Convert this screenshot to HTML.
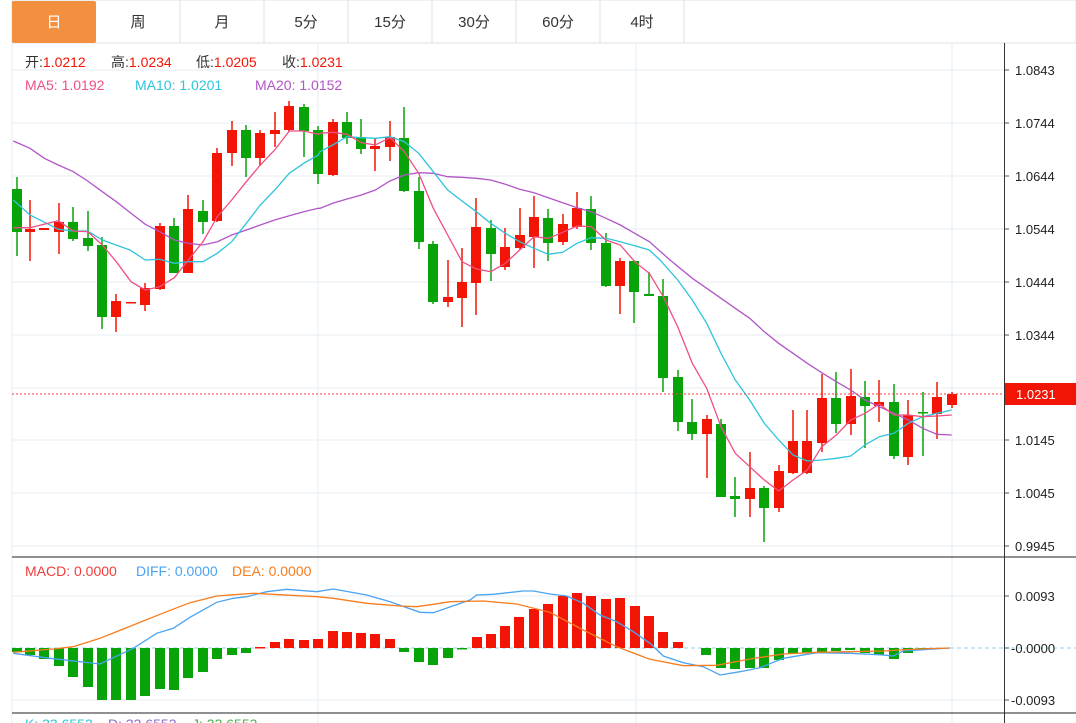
<!DOCTYPE html>
<html><head><meta charset="utf-8">
<style>
html,body{margin:0;padding:0;background:#fff;width:1076px;height:723px;overflow:hidden;font-family:"Liberation Sans","Noto Sans CJK SC",sans-serif;}
</style></head>
<body>
<svg id="s" width="1076" height="723" xmlns="http://www.w3.org/2000/svg" style="position:absolute;left:0;top:0;font-family:'Liberation Sans','Noto Sans CJK SC',sans-serif">
<rect x="12" y="0" width="1064" height="43" fill="#fff" stroke="#dde3ea"/>
<rect x="12" y="1" width="84" height="42" fill="#f39040" rx="2"/>
<g stroke="#dde3ea"><line x1="180" y1="0" x2="180" y2="43"/><line x1="264" y1="0" x2="264" y2="43"/><line x1="348" y1="0" x2="348" y2="43"/><line x1="432" y1="0" x2="432" y2="43"/><line x1="516" y1="0" x2="516" y2="43"/><line x1="600" y1="0" x2="600" y2="43"/><line x1="684" y1="0" x2="684" y2="43"/></g>
<g font-size="15" text-anchor="middle" fill="#333">
<text x="54" y="27" fill="#fff">日</text><text x="138" y="27">周</text><text x="222" y="27">月</text><text x="306" y="27">5分</text><text x="390" y="27">15分</text><text x="474" y="27">30分</text><text x="558" y="27">60分</text><text x="642" y="27">4时</text>
</g>
<g stroke="#e6edf3" stroke-width="1">
<line x1="12" y1="70" x2="1004" y2="70"/><line x1="12" y1="123" x2="1004" y2="123"/><line x1="12" y1="176" x2="1004" y2="176"/><line x1="12" y1="229" x2="1004" y2="229"/><line x1="12" y1="282" x2="1004" y2="282"/><line x1="12" y1="335" x2="1004" y2="335"/><line x1="12" y1="388" x2="1004" y2="388"/><line x1="12" y1="440" x2="1004" y2="440"/><line x1="12" y1="493" x2="1004" y2="493"/><line x1="12" y1="546" x2="1004" y2="546"/>
<line x1="12" y1="596" x2="1004" y2="596"/><line x1="12" y1="700" x2="1004" y2="700"/>
<line x1="318" y1="43" x2="318" y2="723"/><line x1="636" y1="43" x2="636" y2="723"/><line x1="952" y1="43" x2="952" y2="723"/>
<line x1="12" y1="43" x2="12" y2="723"/>
</g>
<line x1="12" y1="648" x2="1004" y2="648" stroke="#8fd3e8" stroke-dasharray="4,3"/>
<line x1="1004" y1="648" x2="1076" y2="648" stroke="#8fd3e8" stroke-dasharray="4,3"/>
<g id="cand"></g>
<g id="mac"></g>
<line x1="12" y1="394" x2="1004" y2="394" stroke="#f03c3c" stroke-dasharray="2,2"/>
<line x1="12" y1="557" x2="1076" y2="557" stroke="#222"/>
<line x1="12" y1="713" x2="1076" y2="713" stroke="#222"/>
<line x1="1004.5" y1="43" x2="1004.5" y2="723" stroke="#333"/>
<g stroke="#555"><line x1="1005" y1="70" x2="1009" y2="70"/><line x1="1005" y1="123" x2="1009" y2="123"/><line x1="1005" y1="176" x2="1009" y2="176"/><line x1="1005" y1="229" x2="1009" y2="229"/><line x1="1005" y1="282" x2="1009" y2="282"/><line x1="1005" y1="335" x2="1009" y2="335"/><line x1="1005" y1="388" x2="1009" y2="388"/><line x1="1005" y1="440" x2="1009" y2="440"/><line x1="1005" y1="493" x2="1009" y2="493"/><line x1="1005" y1="546" x2="1009" y2="546"/><line x1="1005" y1="596" x2="1009" y2="596"/><line x1="1005" y1="648" x2="1009" y2="648"/><line x1="1005" y1="700" x2="1009" y2="700"/></g>
<g font-size="13" fill="#222">
<text x="1015" y="75">1.0843</text><text x="1015" y="128">1.0744</text><text x="1015" y="181">1.0644</text><text x="1015" y="234">1.0544</text><text x="1015" y="287">1.0444</text><text x="1015" y="340">1.0344</text><text x="1015" y="393">1.0245</text><text x="1015" y="445">1.0145</text><text x="1015" y="498">1.0045</text><text x="1015" y="551">0.9945</text>
<text x="1015" y="601">0.0093</text><text x="1011" y="653">-0.0000</text><text x="1011" y="705">-0.0093</text>
</g>
<rect x="1005" y="383" width="71" height="22" fill="#f21405"/>
<text x="1016" y="399" font-size="13" fill="#fff">1.0231</text>
<g font-size="14">
<text x="25" y="67" fill="#333">开:<tspan fill="#f21405">1.0212</tspan></text>
<text x="111" y="67" fill="#333">高:<tspan fill="#f21405">1.0234</tspan></text>
<text x="196" y="67" fill="#333">低:<tspan fill="#f21405">1.0205</tspan></text>
<text x="282" y="67" fill="#333">收:<tspan fill="#f21405">1.0231</tspan></text>
<text x="25" y="90" fill="#ef4f84">MA5:  1.0192</text>
<text x="135" y="90" fill="#2ec4db">MA10:  1.0201</text>
<text x="255" y="90" fill="#b155c7">MA20:  1.0152</text>
<text x="25" y="576" fill="#f03c3c">MACD: 0.0000</text>
<text x="136" y="576" fill="#4aa3f0">DIFF: 0.0000</text>
<text x="232" y="576" fill="#f57d1f">DEA: 0.0000</text>
<text x="25" y="729" fill="#2ec4db">K: 33.6553</text>
<text x="108" y="729" fill="#8e6bc7">D: 33.6553</text>
<text x="192" y="729" fill="#4caf50">J: 33.6553</text>
</g>
</svg>
<script>
var R="#f21405",G="#08a308";
var C=[[17,189,232,177,256,0],[30,229,232,200,261,1],[44,228,230,228,230,1],[59,222,232,203,254,1],[73,222,239,207,241,0],[88,238,246,211,251,0],[102,245,317,237,329,0],[116,301,317,294,332,1],[131,302,303,302,303,1],[145,288,305,283,311,1],[160,226,289,223,290,1],[174,226,273,218,273,0],[188,209,273,195,273,1],[203,211,222,200,234,0],[217,153,221,148,222,1],[232,130,153,121,166,1],[246,130,158,125,177,0],[260,133,158,130,166,1],[275,130,134,112,147,1],[289,106,130,101,132,1],[304,107,131,104,157,0],[318,130,174,126,184,0],[333,122,175,119,176,1],[347,122,138,112,144,0],[361,137,149,119,154,0],[375,146,149,138,171,1],[390,137,147,121,161,1],[404,138,191,107,192,0],[419,191,242,177,249,0],[433,244,302,241,304,0],[448,297,302,260,307,1],[462,282,298,248,327,1],[476,227,283,198,315,1],[491,228,254,220,281,0],[505,247,267,228,270,1],[520,235,248,208,250,1],[534,217,237,196,268,1],[548,218,243,209,261,0],[563,224,242,214,245,1],[577,208,227,192,229,1],[591,209,243,196,250,0],[606,243,286,233,287,0],[620,261,286,258,314,1],[634,261,292,260,323,0],[649,294,296,272,296,0],[663,296,378,279,392,0],[678,377,422,370,431,0],[692,422,434,399,440,0],[707,419,434,415,478,1],[721,424,497,419,497,0],[735,496,499,477,517,0],[750,488,499,452,517,1],[764,488,508,486,542,0],[779,471,508,465,512,1],[793,441,473,410,474,1],[807,441,473,410,474,1],[822,398,443,374,452,1],[836,398,424,372,433,0],[851,396,424,369,435,1],[865,397,406,381,448,0],[879,402,406,380,422,1],[894,402,456,384,459,0],[908,415,457,400,465,1],[923,412,413,392,456,0],[937,397,414,382,439,1],[952,394,405,392,408,1]];
var h="";
C.forEach(function(c){var col=c[5]?R:G;h+='<line x1="'+c[0]+'" y1="'+c[3]+'" x2="'+c[0]+'" y2="'+c[4]+'" stroke="'+col+'" stroke-width="1.5"/>';var bh=Math.max(c[2]-c[1],1.5);h+='<rect x="'+(c[0]-5)+'" y="'+c[1]+'" width="10" height="'+bh+'" fill="'+col+'"/>';});
function mono(pts){var out=[],lx=-1e9;pts.forEach(function(p){if(p[0]>lx+0.5){out.push(p);lx=p[0];}});return out;}
function PL(pts,col){pts=mono(pts);return '<polyline points="'+pts.map(function(p){return p[0].toFixed(1)+","+p[1].toFixed(1)}).join(" ")+'" fill="none" stroke="'+col+'" stroke-width="1.3"/>';}
var ma5a=[[40,398],[90,398],[175,377],[220,408],[263,410],[307,450],[349,500],[393,560],[436,585],[479,575],[523,548],[565,495],[609,440],[652,365],[695,315],[739,260],[781,210],[824,165],[868,108],[911,108],[955,118]];
var ma5b=[[0,115],[38,112],[81,118],[124,143],[166,150],[210,128],[253,170],[296,235],[340,340],[383,420],[426,500],[469,522],[512,530],[556,505],[599,465],[642,425],[685,430],[728,412],[771,393],[814,395],[858,435],[901,450],[944,500]];
var ma5c=[[43,0],[88,40],[130,110],[173,200],[217,310],[260,385],[303,500],[346,580],[389,620],[433,660],[476,693],[519,660],[562,630],[605,560],[649,525],[692,480],[735,460],[778,432],[822,465],[865,465],[908,470],[951,468],[995,465]];
var m10a=[[40,315],[90,360],[175,403],[220,408],[263,408],[307,435],[390,465],[436,495],[479,493],[523,505],[565,500],[609,500],[652,475],[695,440],[739,385],[781,330],[824,285],[868,235],[911,205],[955,180]];
var m10b=[[0,170],[38,150],[81,125],[124,128],[166,130],[210,125],[253,140],[296,175],[340,230],[383,285],[426,318],[469,350],[512,385],[556,415],[599,440],[642,460],[685,478],[728,472],[771,445],[814,428],[858,430],[901,440],[944,452],[988,465]];
var m10c=[[120,0],[173,60],[217,120],[260,190],[303,280],[346,360],[389,420],[433,490],[476,540],[519,585],[562,603],[605,600],[649,595],[692,588],[735,555],[778,530],[822,520],[865,490],[908,470],[951,460],[995,450]];
var m20a=[[40,138],[90,160],[133,190],[175,210],[220,230],[263,258],[307,290],[349,320],[393,355],[436,388],[479,410],[523,435],[565,445],[609,450],[652,440],[695,420],[739,405],[781,390],[824,375],[868,362],[911,350],[955,340]];
var m20b=[[0,340],[38,325],[81,312],[124,300],[166,285],[210,258],[253,240],[296,233],[340,235],[383,245],[426,247],[469,250],[512,255],[556,268],[599,283],[642,293],[685,308],[728,323],[771,338],[814,350],[858,370],[901,390],[944,415],[988,440]];
var m20c=[[150,0],[217,55],[260,85],[303,115],[346,145],[389,175],[433,215],[476,250],[519,280],[562,310],[605,338],[649,365],[692,390],[735,420],[778,440],[822,460],[865,480],[908,505],[951,523],[995,525]];
function J(a,b,c){return a.map(function(p){return [p[0]/3,95+p[1]/3]}).concat(b.map(function(p){return [320+p[0]/3,95+p[1]/3]})).concat(c.map(function(p){return [620+p[0]/3,260+p[1]/3]}));}
h+=PL(J(m20a,m20b,m20c),"#b155c7")+PL(J(m10a,m10b,m10c),"#2ec4db")+PL(J(ma5a,ma5b,ma5c),"#ef4f84");
document.getElementById("cand").innerHTML=h;
var B=[[17,652],[30,655],[44,659],[59,666],[73,677],[88,687],[102,700],[116,700],[131,700],[145,696],[160,689],[174,690],[188,678],[203,672],[217,659],[232,655],[246,653],[260,647],[275,642],[289,639],[304,640],[318,639],[333,631],[347,632],[361,633],[375,634],[390,639],[404,652],[419,662],[433,665],[448,658],[462,649],[477,637],[491,634],[505,626],[519,617],[534,609],[548,604],[563,596],[577,593],[591,596],[606,599],[620,598],[635,606],[649,616],[663,632],[678,642],[706,655],[721,668],[735,669],[750,668],[764,668],[779,660],[793,654],[807,653],[822,652],[836,651],[850,650],[865,653],[879,655],[894,659],[908,653],[923,650]];
var m="";
B.forEach(function(b){var y0=648,top=Math.min(b[1],y0),hh=Math.max(Math.abs(b[1]-y0),1.5);m+='<rect x="'+(b[0]-5)+'" y="'+top+'" width="10" height="'+hh+'" fill="'+(b[1]<y0?R:G)+'"/>';});
var difA=[[40,340],[150,355],[300,372],[400,325],[470,280],[520,265],[570,232],[650,187],[700,175],[740,170],[800,155],[860,148],[950,155],[1000,147],[1100,165],[1170,185],[1260,217],[1300,218]].map(function(p){return [p[0]/3,540+p[1]/3]});
var difB=[[0,105],[80,75],[130,73],[220,63],[250,63],[300,72],[350,78],[400,100],[450,135],[500,155],[550,185],[600,220],[640,258],[700,278],[760,290],[810,315],[870,305],[930,293],[1000,265],[1100,248],[1200,250],[1300,255],[1330,258],[1360,243],[1500,234]].map(function(p){return [450+p[0]/3,570+p[1]/3]});
var deaA=[[40,337],[160,327],[220,320],[300,295],[400,255],[500,215],[570,188],[650,168],[760,160],[950,170],[1000,175],[1100,190],[1200,198],[1250,200],[1300,193]].map(function(p){return [p[0]/3,540+p[1]/3]});
var deaB=[[0,95],[100,93],[200,102],[300,127],[400,180],[500,230],[600,268],[700,287],[800,286],[900,267],[1000,252],[1100,247],[1200,245],[1300,243],[1400,237],[1500,234]].map(function(p){return [450+p[0]/3,570+p[1]/3]});
m+=PL(difA.concat([[470,600]]).concat(difB),"#4aa3f0")+PL(deaA.concat(deaB),"#f57d1f");
document.getElementById("mac").innerHTML=m;
</script>
</body></html>
